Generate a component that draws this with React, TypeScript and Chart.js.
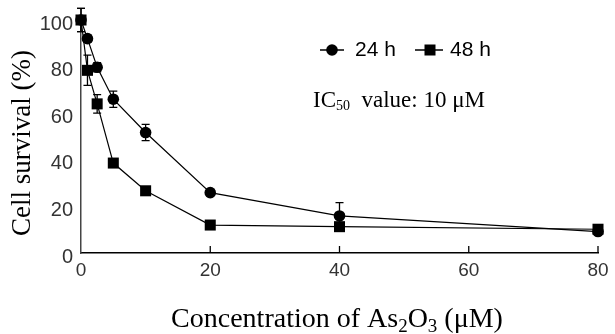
import React, { useEffect, useRef } from "react";
import { Chart, registerables } from "chart.js";

Chart.register(...registerables);

const concentrations = [0, 1, 2.5, 5, 10, 20, 40, 80];
const survival24h = [100, 92, 79.7, 66, 51.7, 25.9, 15.9, 9.2];
const survival48h = [100, 78.4, 64, 38.6, 26.7, 12, 11.3, 10.2];
const error24h = [5, 1.5, 2, 3.5, 3.5, 1, 5.7, 1];
const error48h = [5, 6.5, 4, 1, 1, 1, 1.5, 1.5];
const xTickValues = [0, 20, 40, 60, 80];
const yTickValues = [0, 20, 40, 60, 80, 100];
const seriesLabels = ["24 h", "48 h"];
const xTitleRuns = [
  { t: "Concentration of As", sub: false },
  { t: "2", sub: true },
  { t: "O", sub: false },
  { t: "3", sub: true },
  { t: " (\u03bcM)", sub: false },
];
const yTitle = "Cell survival (%)";
const icRuns = [
  { t: "IC", sub: false },
  { t: "50", sub: true },
  { t: "  value: 10 \u03bcM", sub: false },
];

const errorSets = [error24h, error48h];

type Run = { t: string; sub: boolean };

function drawRuns(
  ctx: CanvasRenderingContext2D,
  runs: Run[],
  x: number,
  y: number,
  size: number,
  subSize: number,
  subDy: number,
  align: "left" | "center"
) {
  const font = (s: number) => `${s}px "Liberation Serif", "Times New Roman", serif`;
  let total = 0;
  for (const r of runs) {
    ctx.font = font(r.sub ? subSize : size);
    total += ctx.measureText(r.t).width;
  }
  let cx = align === "center" ? x - total / 2 : x;
  ctx.textAlign = "left";
  ctx.textBaseline = "alphabetic";
  for (const r of runs) {
    ctx.font = font(r.sub ? subSize : size);
    ctx.fillText(r.t, cx, y + (r.sub ? subDy : 0));
    cx += ctx.measureText(r.t).width;
  }
}

const errorBarPlugin = {
  id: "errorBars",
  beforeDatasetsDraw(chart: any) {
    const ctx = chart.ctx as CanvasRenderingContext2D;
    const ys = chart.scales.y;
    chart.data.datasets.forEach((ds: any, i: number) => {
      const meta = chart.getDatasetMeta(i);
      const errs = errorSets[i];
      meta.data.forEach((pt: any, j: number) => {
        const v = ds.data[j].y;
        const e = errs[j];
        const top = ys.getPixelForValue(v + e);
        const bot = ys.getPixelForValue(v - e);
        ctx.save();
        ctx.strokeStyle = "#000";
        ctx.lineWidth = 1.3;
        ctx.beginPath();
        ctx.moveTo(pt.x, top);
        ctx.lineTo(pt.x, bot);
        ctx.moveTo(pt.x - 4, top);
        ctx.lineTo(pt.x + 4, top);
        ctx.moveTo(pt.x - 4, bot);
        ctx.lineTo(pt.x + 4, bot);
        ctx.stroke();
        ctx.restore();
      });
    });
  },
};

const decorPlugin = {
  id: "decor",
  afterDraw(chart: any) {
    const ctx = chart.ctx as CanvasRenderingContext2D;
    const xs = chart.scales.x;
    const area = chart.chartArea;
    ctx.save();
    ctx.strokeStyle = "#000";
    ctx.lineWidth = 1.3;
    ctx.beginPath();
    for (const v of xTickValues) {
      if (v === 0) continue;
      const px = xs.getPixelForValue(v);
      ctx.moveTo(px, area.bottom);
      ctx.lineTo(px, area.bottom - 7);
    }
    ctx.stroke();

    ctx.fillStyle = "#000";
    drawRuns(ctx, xTitleRuns, 337, 327, 28, 19, 5, "center");
    ctx.save();
    ctx.translate(30, 143);
    ctx.rotate(-Math.PI / 2);
    ctx.font = `27px "Liberation Serif", "Times New Roman", serif`;
    ctx.textAlign = "center";
    ctx.textBaseline = "alphabetic";
    ctx.fillText(yTitle, 0, 0);
    ctx.restore();
    drawRuns(ctx, icRuns, 313, 107, 23, 14, 3, "left");

    const ly = 50;
    ctx.lineWidth = 1.5;
    ctx.beginPath();
    ctx.moveTo(320, ly);
    ctx.lineTo(344, ly);
    ctx.moveTo(415, ly);
    ctx.lineTo(443, ly);
    ctx.stroke();
    ctx.beginPath();
    ctx.arc(332, ly, 5.8, 0, Math.PI * 2);
    ctx.fill();
    ctx.fillRect(424.5, ly - 5.5, 11, 11);
    ctx.font = `21px "Liberation Sans", Arial, sans-serif`;
    ctx.textAlign = "left";
    ctx.textBaseline = "middle";
    ctx.fillText(seriesLabels[0], 355, ly);
    ctx.fillText(seriesLabels[1], 450, ly);
    ctx.restore();
  },
};

export default function App() {
  const ref = useRef<HTMLCanvasElement | null>(null);
  useEffect(() => {
    if (!ref.current) return;
    const chart = new Chart(ref.current, {
      type: "line",
      data: {
        datasets: [
          {
            label: seriesLabels[0],
            data: concentrations.map((c, i) => ({ x: c, y: survival24h[i] })),
            borderColor: "#000",
            backgroundColor: "#000",
            borderWidth: 1.2,
            pointStyle: "circle",
            pointRadius: 5.8,
            pointBorderWidth: 0,
            pointBackgroundColor: "#000",
            tension: 0,
            clip: false as any,
            order: 1,
          },
          {
            label: seriesLabels[1],
            data: concentrations.map((c, i) => ({ x: c, y: survival48h[i] })),
            borderColor: "#000",
            backgroundColor: "#000",
            borderWidth: 1.2,
            pointStyle: "rect",
            pointRadius: 7.8,
            pointBorderWidth: 0,
            pointBackgroundColor: "#000",
            tension: 0,
            clip: false as any,
            order: 0,
          },
        ],
      },
      options: {
        responsive: false,
        animation: false,
        layout: { padding: { top: 20, right: 17, left: 0, bottom: 0 } },
        plugins: { legend: { display: false }, tooltip: { enabled: false } },
        scales: {
          x: {
            type: "linear",
            min: 0,
            max: 80,
            afterFit: (s: any) => {
              s.height = 81;
            },
            afterBuildTicks: (s: any) => {
              s.ticks = xTickValues.map((v) => ({ value: v }));
            },
            grid: { display: false, drawTicks: false },
            border: { display: true, color: "#000", width: 1.5 },
            ticks: {
              padding: 6,
              color: "#333",
              font: { family: '"Liberation Sans", Arial, sans-serif', size: 19 },
            },
          },
          y: {
            type: "linear",
            min: 0,
            max: 100,
            afterFit: (s: any) => {
              s.width = 81;
            },
            afterBuildTicks: (s: any) => {
              s.ticks = yTickValues.map((v) => ({ value: v }));
            },
            grid: { display: false, drawTicks: false },
            border: { display: true, color: "#444", width: 1.5 },
            ticks: {
              padding: 8,
              labelOffset: 4,
              color: "#333",
              font: { family: '"Liberation Sans", Arial, sans-serif', size: 20 },
            },
          },
        },
      },
      plugins: [errorBarPlugin, decorPlugin],
    });
    return () => chart.destroy();
  }, []);
  return (
    <div style={{ position: "fixed", left: 0, top: 0, width: 615, height: 334, background: "#fff" }}>
      <canvas ref={ref} width={615} height={334} />
    </div>
  );
}
